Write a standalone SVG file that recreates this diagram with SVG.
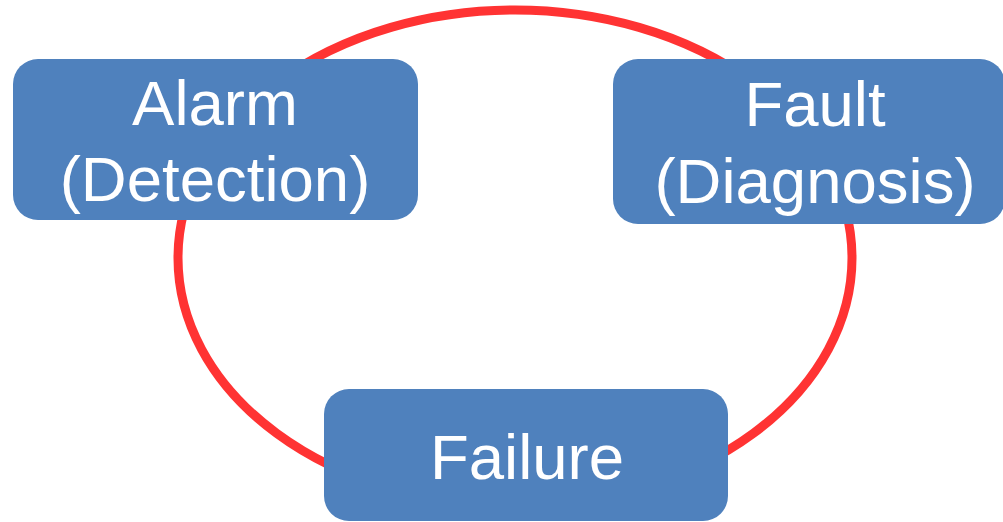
<svg xmlns="http://www.w3.org/2000/svg" width="1003" height="522" viewBox="0 0 1003 522">
<style>
.node{fill:#4F81BD;}
.lbl{font-family:"Liberation Sans",Arial,sans-serif;font-size:63.5px;fill:#FFFFFF;text-anchor:middle;}
.cyc{fill:none;stroke:#FF3333;stroke-width:9;}
</style>
<g id="connectors">
<ellipse class="cyc" cx="515" cy="258" rx="337" ry="248"/>
</g>
<g id="alarm">
<rect class="node" x="13" y="59" width="405" height="161" rx="25"/>
<text class="lbl" x="215" y="125">Alarm</text>
<text class="lbl" x="215" y="201">(Detection)</text>
</g>
<g id="fault">
<rect class="node" x="613" y="59" width="392" height="165" rx="25"/>
<text class="lbl" x="815" y="126">Fault</text>
<text class="lbl" x="815" y="203">(Diagnosis)</text>
</g>
<g id="failure">
<rect class="node" x="324" y="389" width="404" height="132" rx="25"/>
<text class="lbl" x="527" y="479">Failure</text>
</g>
</svg>
